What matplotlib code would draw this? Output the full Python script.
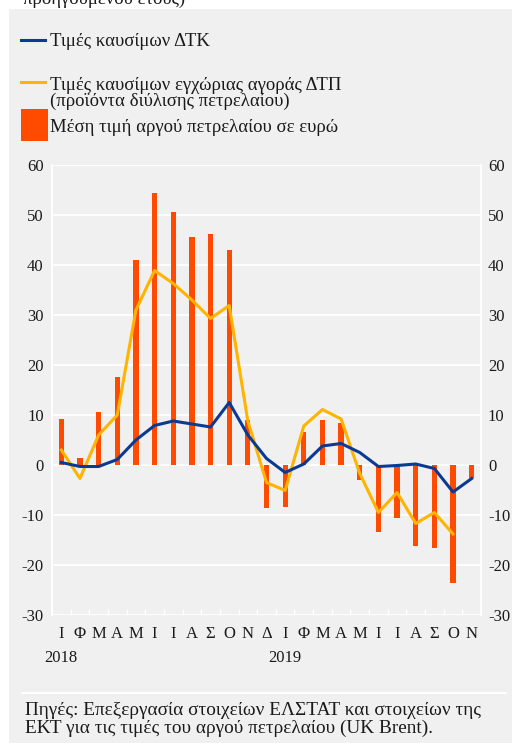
import matplotlib
matplotlib.use("Agg")
import matplotlib.pyplot as plt
import matplotlib.transforms as mtransforms
from matplotlib.patches import Rectangle
from matplotlib.lines import Line2D
import numpy as np

plt.rcParams['font.family'] = ['Liberation Serif', 'DejaVu Serif']
plt.rcParams['axes.unicode_minus'] = False

months = ['Ι', 'Φ', 'Μ', 'Α', 'Μ', 'Ι', 'Ι', 'Α', 'Σ', 'Ο', 'Ν', 'Δ',
          'Ι', 'Φ', 'Μ', 'Α', 'Μ', 'Ι', 'Ι', 'Α', 'Σ', 'Ο', 'Ν']
years = ['2018', '2019']
year_pos = [0, 12]

crude_eur = [9.2, 1.4, 10.6, 17.6, 41.1, 54.4, 50.6, 45.6, 46.2, 43.1, 9.0, -8.5,
             -8.3, 6.6, 9.0, 8.4, -2.9, -13.3, -10.5, -16.1, -16.5, -23.5, -2.5]
hicp_fuel = [0.5, -0.3, -0.3, 1.1, 5.0, 7.9, 8.8, 8.2, 7.6, 12.5, 6.0, 1.3,
             -1.5, 0.2, 3.8, 4.3, 2.5, -0.3, -0.1, 0.2, -0.7, -5.4, -2.7]
ppi_fuel = [3.0, -2.7, 6.0, 10.0, 31.0, 38.9, 36.3, 33.0, 29.3, 31.9, 8.8, -3.5,
            -5.1, 7.8, 11.1, 9.2, -1.7, -9.5, -5.5, -11.7, -9.5, -13.8, np.nan]

label_hicp = 'Τιμές καυσίμων ΔΤΚ'
label_ppi_1 = 'Τιμές καυσίμων εγχώριας αγοράς ΔΤΠ'
label_ppi_2 = '(προϊόντα διύλισης πετρελαίου)'
label_crude = 'Μέση τιμή αργού πετρελαίου σε ευρώ'
source_1 = 'Πηγές: Επεξεργασία στοιχείων ΕΛΣΤΑΤ και στοιχείων της'
source_2 = 'ΕΚΤ για τις τιμές του αργού πετρελαίου (UK Brent).'
top_text = 'προηγούμενου έτους)'

W, H = 512, 743
BG = '#f0f0f0'
BLUE = '#0a3a94'
YELLOW = '#ffb400'
ORANGE = '#ff4b00'
TXT = '#1a1a1a'

fig = plt.figure(figsize=(W / 100, H / 100), dpi=100, facecolor='white')

def fx(px):
    return px / W

def fy(py):
    return 1 - py / H

# grey panel
fig.patches.append(Rectangle((fx(9), 0), 1 - fx(9), fy(9), transform=fig.transFigure,
                             facecolor=BG, edgecolor='none', zorder=-10))

# cut-off title line at top
fig.text(fx(23), fy(3.5), top_text, fontsize=13.5, color=TXT, va='baseline', ha='left')

# legend (manual)
fig.lines.append(Line2D([fx(21), fx(45)], [fy(39.5), fy(39.5)], transform=fig.transFigure,
                        color=BLUE, lw=2.2))
fig.text(fx(50), fy(46.5), label_hicp, fontsize=13.5, color=TXT, va='baseline')
fig.lines.append(Line2D([fx(21), fx(45)], [fy(81.7), fy(81.7)], transform=fig.transFigure,
                        color=YELLOW, lw=2.2))
fig.text(fx(50), fy(90), label_ppi_1, fontsize=13.5, color=TXT, va='baseline')
fig.text(fx(50), fy(106), label_ppi_2, fontsize=13.5, color=TXT, va='baseline')
fig.patches.append(Rectangle((fx(21), fy(140.5)), fx(48) - fx(21), fy(109) - fy(140.5),
                             transform=fig.transFigure, facecolor=ORANGE, edgecolor='none'))
fig.text(fx(50), fy(132.5), label_crude, fontsize=13.5, color=TXT, va='baseline')

# axes
left, right, top, bottom = 52, 481, 165, 615
ax = fig.add_axes([fx(left), fy(bottom), fx(right) - fx(left), fy(top) - fy(bottom)])
ax.set_facecolor(BG)
x = np.arange(len(months))
ax.bar(x, crude_eur, width=0.28, color=ORANGE, zorder=2)
ax.plot(x, ppi_fuel, color=YELLOW, lw=2.2, zorder=3)
ax.plot(x, hicp_fuel, color=BLUE, lw=2.2, zorder=4)
ax.set_xlim(-0.5, len(months) - 0.5)
ax.set_ylim(-30, 60)
ax.set_yticks(np.arange(-30, 61, 10))
ax.yaxis.grid(True, color='white', lw=1.3, zorder=0)
ax.set_axisbelow(True)
for s in ['top', 'bottom']:
    ax.spines[s].set_visible(False)
for s in ['left', 'right']:
    ax.spines[s].set_color('white')
    ax.spines[s].set_linewidth(1.3)
ax.tick_params(axis='y', length=0, pad=6, labelsize=12, labelcolor=TXT)
ax.set_xticks(x)
ax.set_xticklabels(months, fontsize=12, color=TXT)
ax.tick_params(axis='x', which='major', length=0, pad=8)
ax.set_xticks(np.arange(-0.5, len(months), 1), minor=True)
ax.tick_params(axis='x', which='minor', length=4, width=1, color='white', direction='in')

ax2 = ax.twinx()
ax2.set_ylim(-30, 60)
ax2.set_yticks(np.arange(-30, 61, 10))
ax2.tick_params(axis='y', length=0, pad=5, labelsize=12, labelcolor=TXT)
for s in ax2.spines.values():
    s.set_visible(False)

trans = mtransforms.blended_transform_factory(ax.transData, fig.transFigure)
for yp, yl in zip(year_pos, years):
    ax.text(yp, fy(662), yl, transform=trans, ha='center', va='baseline', fontsize=12, color=TXT)

# separator and source
fig.lines.append(Line2D([fx(22), fx(506)], [fy(693), fy(693)], transform=fig.transFigure,
                        color='white', lw=1.5))
fig.text(fx(25), fy(715), source_1, fontsize=13.85, color=TXT, va='baseline')
fig.text(fx(25), fy(732.5), source_2, fontsize=13.85, color=TXT, va='baseline')

fig.savefig('out.png', dpi=100, facecolor='white')
